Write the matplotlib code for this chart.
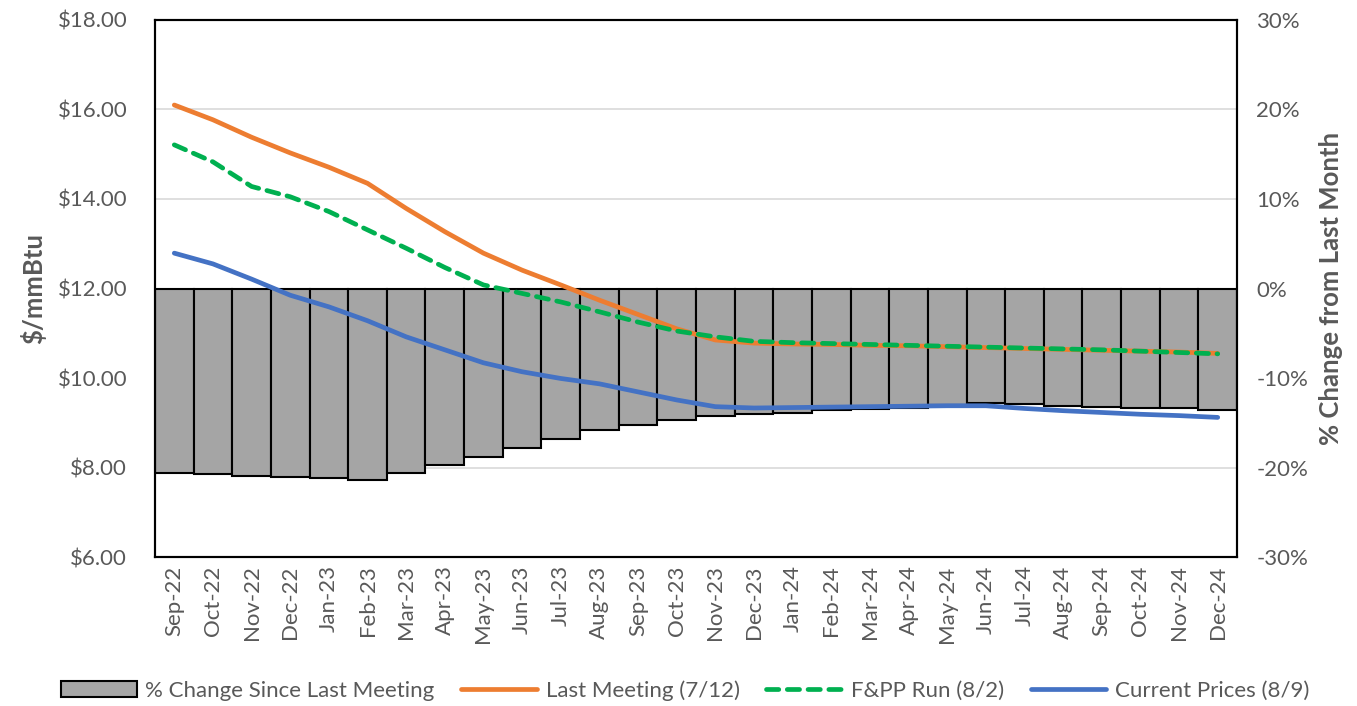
import matplotlib.pyplot as plt
from matplotlib.ticker import FuncFormatter

plt.rcParams['font.family'] = ['Lato', 'DejaVu Sans']

months = ['Sep-22', 'Oct-22', 'Nov-22', 'Dec-22', 'Jan-23', 'Feb-23', 'Mar-23',
          'Apr-23', 'May-23', 'Jun-23', 'Jul-23', 'Aug-23', 'Sep-23', 'Oct-23',
          'Nov-23', 'Dec-23', 'Jan-24', 'Feb-24', 'Mar-24', 'Apr-24', 'May-24',
          'Jun-24', 'Jul-24', 'Aug-24', 'Sep-24', 'Oct-24', 'Nov-24', 'Dec-24']

# % change since last meeting (bars, right axis)
pct_change = [-20.6, -20.7, -20.9, -21.1, -21.2, -21.4, -20.6, -19.7, -18.8,
              -17.8, -16.8, -15.8, -15.2, -14.7, -14.2, -14.0, -13.9, -13.6,
              -13.5, -13.3, -13.0, -12.8, -12.9, -13.1, -13.2, -13.3, -13.4, -13.6]

# $/mmBtu
last_meeting = [16.10, 15.77, 15.38, 15.03, 14.71, 14.35, 13.79, 13.27, 12.79,
                12.41, 12.08, 11.74, 11.42, 11.10, 10.85, 10.78, 10.76, 10.75,
                10.73, 10.72, 10.70, 10.68, 10.66, 10.64, 10.62, 10.60, 10.58, 10.55]
fpp_run = [15.21, 14.83, 14.28, 14.05, 13.72, 13.31, 12.90, 12.47, 12.08,
           11.89, 11.70, 11.48, 11.25, 11.05, 10.92, 10.82, 10.79, 10.77,
           10.75, 10.73, 10.71, 10.69, 10.67, 10.65, 10.63, 10.60, 10.57, 10.54]
current = [12.79, 12.55, 12.21, 11.85, 11.59, 11.28, 10.92, 10.63, 10.34,
           10.14, 9.99, 9.87, 9.69, 9.51, 9.36, 9.33, 9.34, 9.35,
           9.36, 9.37, 9.38, 9.38, 9.32, 9.27, 9.23, 9.19, 9.16, 9.12]

grey = '#595959'
x = list(range(len(months)))

fig = plt.figure(figsize=(13.57, 7.06), dpi=100)
ax = fig.add_axes([0.1142, 0.211, 0.7974, 0.7607])
ax2 = ax.twinx()

# bars go on the back axis, lines on the front one
ax.set_zorder(ax2.get_zorder() + 1)
ax.patch.set_visible(False)

b = ax2.bar(x, pct_change, width=1.0, color='#A5A5A5', edgecolor='black',
            linewidth=1.5, label='% Change Since Last Meeting')
ax2.set_ylim(-30, 30)
ax2.set_yticks(range(-30, 31, 10))
ax2.yaxis.set_major_formatter(FuncFormatter(lambda v, p: f'{v:.0f}%'))
ax2.grid(axis='y', color='#D9D9D9', linewidth=1.2)
ax2.set_axisbelow(True)

l1, = ax.plot(x, last_meeting, color='#ED7D31', lw=3.4, label='Last Meeting (7/12)',
              solid_capstyle='round')
l2, = ax.plot(x, fpp_run, color='#00B050', lw=3.4, ls=(0, (2.6, 1.8)),
              label='F&PP Run (8/2)', dash_capstyle='round')
l3, = ax.plot(x, current, color='#4472C4', lw=3.4, label='Current Prices (8/9)',
              solid_capstyle='round')

ax.set_xlim(-0.5, len(months) - 0.5)
ax.set_ylim(6, 18)
ax.set_yticks(range(6, 19, 2))
ax.yaxis.set_major_formatter(FuncFormatter(lambda v, p: f'${v:.2f}'))
ax.set_xticks(x)
ax.set_xticklabels(months, rotation=90)

for a in (ax, ax2):
    a.tick_params(length=0, labelsize=16, labelcolor=grey)
    for s in a.spines.values():
        s.set_color('black')
        s.set_linewidth(1.5)
ax.tick_params(axis='y', pad=20)
ax.tick_params(axis='x', pad=6)
ax2.tick_params(axis='y', pad=14)

ax.set_ylabel('$/mmBtu', fontsize=18.5, fontweight='bold', color=grey, labelpad=8)
ax2.set_ylabel('% Change from Last Month', fontsize=18.5, fontweight='bold',
               color=grey, labelpad=8)

fig.legend(handles=[b, l1, l2, l3], loc='center', bbox_to_anchor=(0.505, 0.022),
           ncol=4, frameon=False, fontsize=16, labelcolor=grey,
           handlelength=3.4, columnspacing=1.2, handletextpad=0.4)

fig.savefig('out.png', dpi=100)
